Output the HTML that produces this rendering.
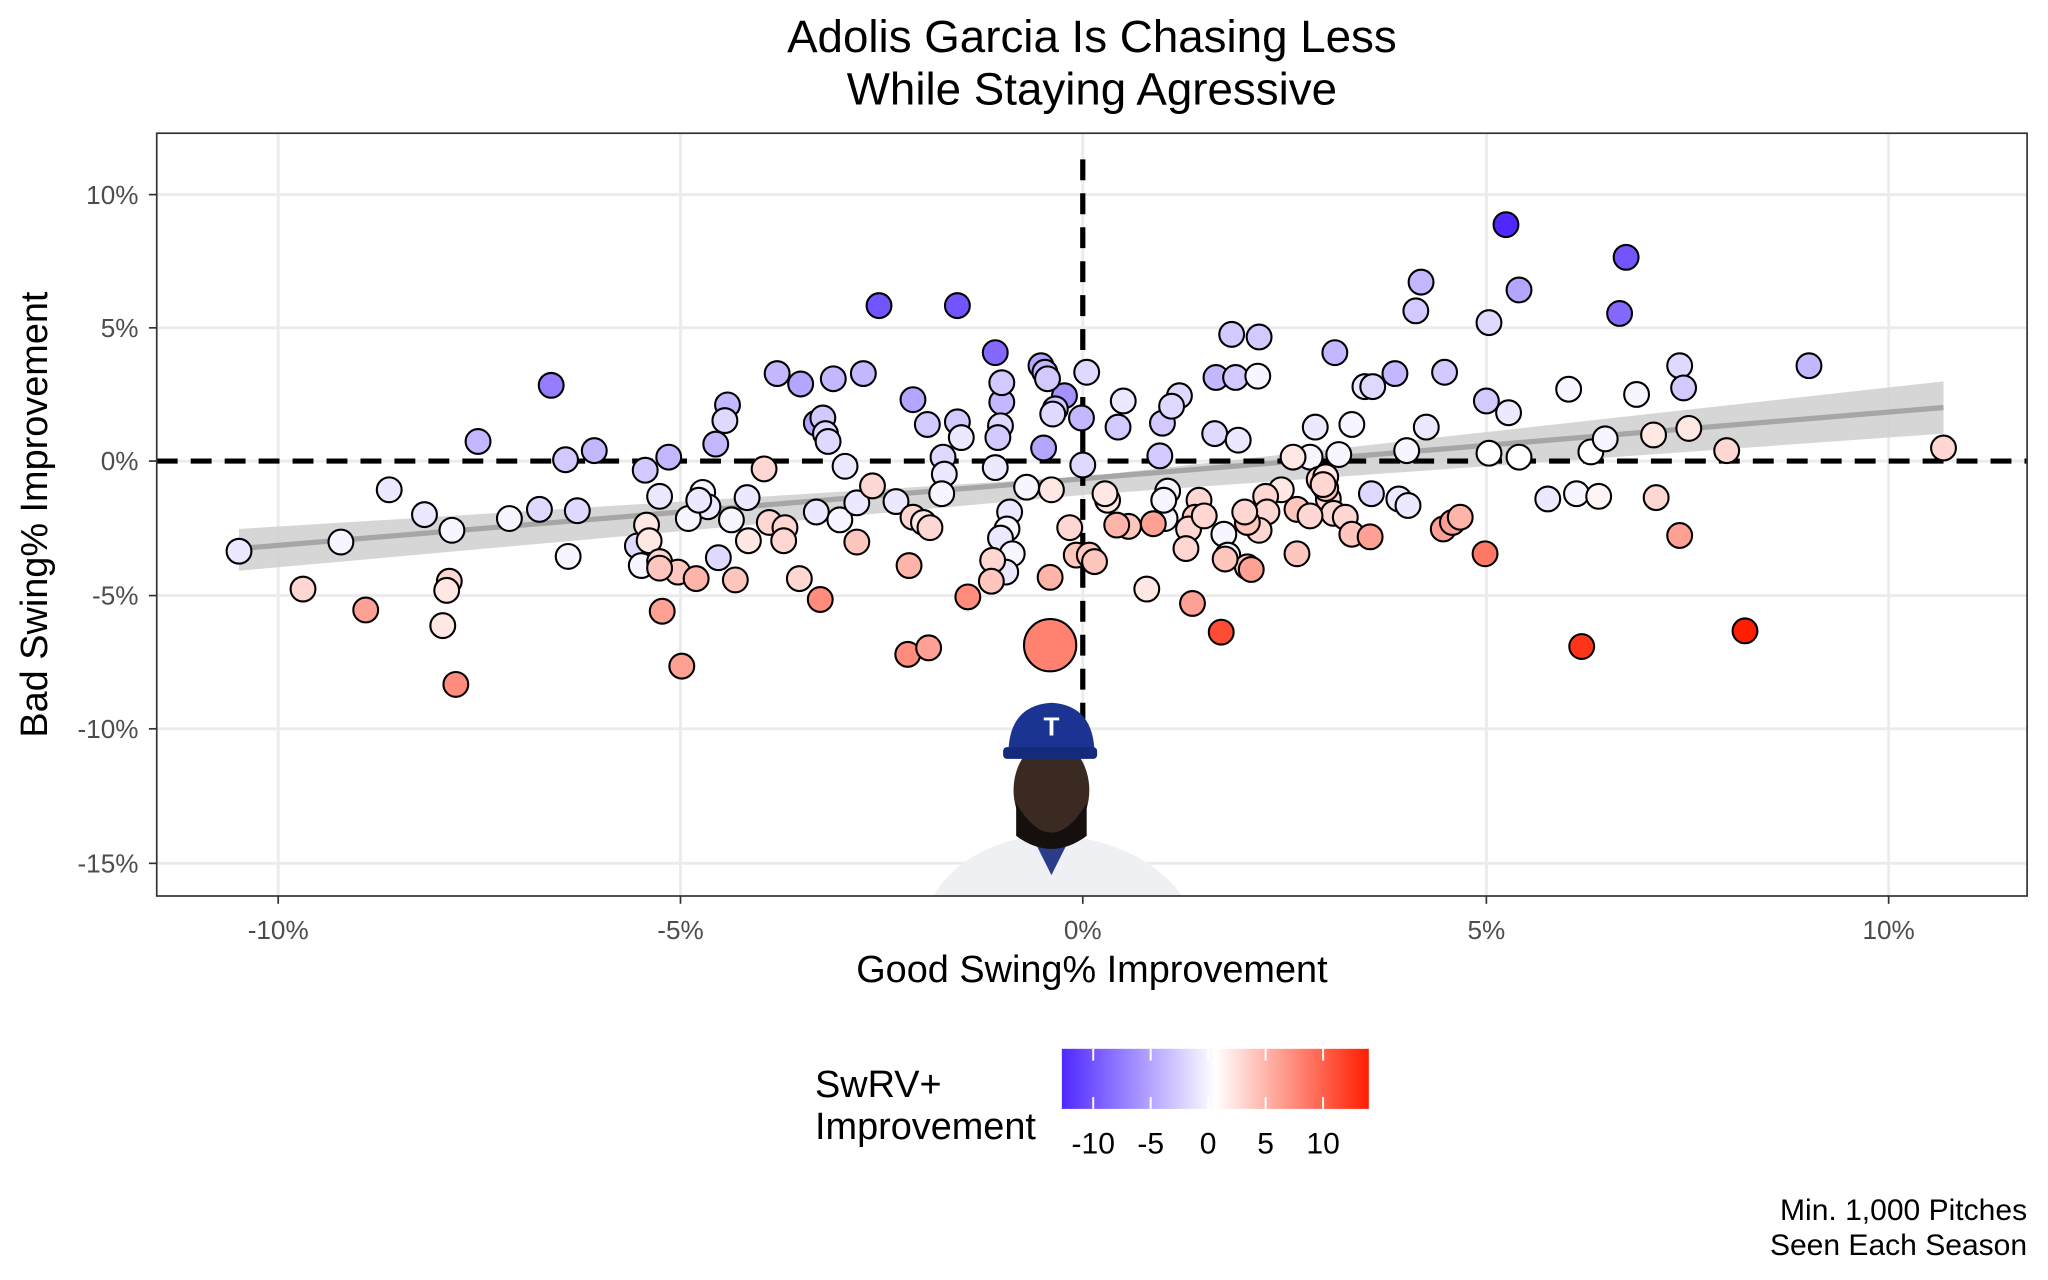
<!DOCTYPE html>
<html><head><meta charset="utf-8"><style>
html,body{margin:0;padding:0;background:#fff}
svg{display:block}
text{font-family:"Liberation Sans",sans-serif}
</style></head><body>
<svg id="s" width="2048" height="1280" viewBox="0 0 1568 980" xmlns="http://www.w3.org/2000/svg">
<defs>
<linearGradient id="lg" x1="0" x2="1" y1="0" y2="0">
<stop offset="0" stop-color="#5028ff"/><stop offset="0.5" stop-color="#ffffff"/><stop offset="1" stop-color="#ff1e00"/>
</linearGradient>
</defs>
<rect width="1568" height="980" fill="#fff"/>
<text x="836" y="40" font-size="35" text-anchor="middle">Adolis Garcia Is Chasing Less</text>
<text x="836" y="80" font-size="35" text-anchor="middle">While Staying Agressive</text>
<g stroke="#ebebeb" stroke-width="2.2">
<line x1="120" x2="1552" y1="149" y2="149"/><line x1="120" x2="1552" y1="251" y2="251"/>
<line x1="120" x2="1552" y1="353" y2="353"/><line x1="120" x2="1552" y1="456" y2="456"/>
<line x1="120" x2="1552" y1="558" y2="558"/><line x1="120" x2="1552" y1="661" y2="661"/>
<line y1="102" y2="686" x1="213" x2="213"/><line y1="102" y2="686" x1="521" x2="521"/>
<line y1="102" y2="686" x1="829" x2="829"/><line y1="102" y2="686" x1="1138" x2="1138"/>
<line y1="102" y2="686" x1="1446" x2="1446"/>
</g>
<path d="M183,405 L829,365 L1488,292 L1488,332 L829,379 L183,437 Z" fill="#cfcfcf" opacity="0.85"/>
<line x1="183" y1="420" x2="1488" y2="312" stroke="#a6a6a6" stroke-width="4"/>
<line x1="120" x2="1552" y1="353" y2="353" stroke="#000" stroke-width="4" stroke-dasharray="16,10"/>
<line x1="829" x2="829" y1="122" y2="560" stroke="#000" stroke-width="4" stroke-dasharray="16,10"/>
<g id="pts" stroke="#000" stroke-width="1.6"></g>
<!-- player -->
<path d="M715,686 Q735,650 790,640 L820,640 Q880,650 905,686 Z" fill="#eef0f4"/>
<path d="M790,640 L805,670 L820,640 Z" fill="#2a3d8a"/>
<ellipse cx="805" cy="605" rx="29" ry="38" fill="#3b2a22"/>
<path d="M778,615 Q805,660 832,615 L832,640 Q805,660 778,640Z" fill="#15100d"/>
<path d="M772,578 Q772,540 805,538 Q838,540 838,578 Z" fill="#1c3491"/>
<rect x="768" y="572" width="72" height="9" rx="3" fill="#142a7a"/>
<text x="805" y="563" font-size="20" font-weight="bold" fill="#fff" text-anchor="middle" font-family="Liberation Serif">T</text>
<rect x="120" y="102" width="1432" height="584" fill="none" stroke="#333" stroke-width="1.3"/>
<g font-size="20" fill="#4d4d4d" text-anchor="end">
<text x="106" y="156">10%</text><text x="106" y="258">5%</text><text x="106" y="360">0%</text>
<text x="106" y="463">-5%</text><text x="106" y="565">-10%</text><text x="106" y="668">-15%</text>
</g>
<g stroke="#333" stroke-width="1.3">
<line x1="114" x2="120" y1="149" y2="149"/><line x1="114" x2="120" y1="251" y2="251"/><line x1="114" x2="120" y1="353" y2="353"/>
<line x1="114" x2="120" y1="456" y2="456"/><line x1="114" x2="120" y1="558" y2="558"/><line x1="114" x2="120" y1="661" y2="661"/>
<line y1="686" y2="692" x1="213" x2="213"/><line y1="686" y2="692" x1="521" x2="521"/><line y1="686" y2="692" x1="829" x2="829"/>
<line y1="686" y2="692" x1="1138" x2="1138"/><line y1="686" y2="692" x1="1446" x2="1446"/>
</g>
<g font-size="20" fill="#4d4d4d" text-anchor="middle">
<text x="213" y="719">-10%</text><text x="521" y="719">-5%</text><text x="829" y="719">0%</text>
<text x="1138" y="719">5%</text><text x="1446" y="719">10%</text>
</g>
<text x="836" y="752" font-size="29" text-anchor="middle">Good Swing% Improvement</text>
<text transform="translate(36,394) rotate(-90)" font-size="29" text-anchor="middle">Bad Swing% Improvement</text>
<text x="624" y="840" font-size="29">SwRV+</text>
<text x="624" y="872" font-size="29">Improvement</text>
<rect x="813" y="803" width="235" height="46" fill="url(#lg)"/>
<g stroke="#fff" stroke-width="1.5">
<line x1="837" x2="837" y1="803" y2="812"/><line x1="837" x2="837" y1="840" y2="849"/>
<line x1="881" x2="881" y1="803" y2="812"/><line x1="881" x2="881" y1="840" y2="849"/>
<line x1="925" x2="925" y1="803" y2="812"/><line x1="925" x2="925" y1="840" y2="849"/>
<line x1="969" x2="969" y1="803" y2="812"/><line x1="969" x2="969" y1="840" y2="849"/>
<line x1="1013" x2="1013" y1="803" y2="812"/><line x1="1013" x2="1013" y1="840" y2="849"/>
</g>
<g font-size="23" text-anchor="middle">
<text x="837" y="883">-10</text><text x="881" y="883">-5</text><text x="925" y="883">0</text><text x="969" y="883">5</text><text x="1013" y="883">10</text>
</g>
<text x="1552" y="934" font-size="23" text-anchor="end">Min. 1,000 Pitches</text>
<text x="1552" y="961" font-size="23" text-anchor="end">Seen Each Season</text>
</svg>
<script>
var P=[
[1153,172,-12],[1245,197,-10],[1240,240,-9],[673,234,-10],[733,234,-10],[762,270,-9],[422,295,-8],[815,303,-7],
[1088,216,-5],[1084,238,-4],[1163,222,-6],[943,256,-4],[964,258,-4],[1022,270,-5],[797,280,-6],[800,285,-5],[802,290,-4],[595,286,-5],[613,294,-6],[638,290,-5],[661,286,-5],[1068,286,-5],[1045,296,-2],[1051,296,-3],[931,289,-5],[946,289,-4],[1286,280,-3],[1289,297,-4],[1385,280,-5],[699,306,-6],[767,308,-5],[767,293,-4],[557,310,-5],[555,322,-3],[625,324,-6],[630,320,-4],[632,332,-3],[634,338,-3],[710,325,-4],[733,323,-4],[736,335,-2],[766,326,-3],[764,335,-4],[808,313,-4],[806,317,-3],[890,324,-4],[903,303,-3],[897,311,-3],[930,332,-3],[948,337,-2],[366,338,-5],[433,352,-4],[455,345,-5],[494,360,-4],[512,350,-5],[548,340,-5],[799,343,-6],[828,320,-5],[888,349,-4],[1106,285,-4],[1138,307,-4],[1155,316,-2],[1201,298,-1],[1253,302,-1],[1140,247,-3],
[832,285,-3],[860,307,-2],[856,327,-4],[963,288,-1],[722,350,-3],[723,363,-2],[647,357,-2],[762,358,-2],[829,356,-3],[1092,327,-2],[1077,345,-1],[1035,325,-1],[1007,327,-2],[1025,348,-1],[1003,350,-1],[1163,350,0],[1218,346,0],[1229,336,-1],[1050,378,-3],[1071,382,-2],[1078,387,-2],[1185,382,-2],[1207,378,-1],[1224,380,1],[298,375,-2],[325,394,-2],[346,406,-1],[390,397,-1],[413,390,-3],[442,391,-3],[488,418,-3],[505,380,-2],[538,377,-1],[542,388,-2],[527,397,-1],[535,383,-2],[560,398,-1],[572,381,-2],[550,427,-3],[435,426,-1],[183,422,-2],[261,415,-1],[491,433,-1],[625,392,-2],[643,398,-1],[656,385,-2],[686,384,-2],[721,378,-1],[786,373,-1],[773,392,-2],[771,405,-1],[766,412,-2],[775,424,-1],[770,438,-2],[894,376,-1],[892,397,-1],[891,383,-1],[937,409,-1],[940,425,-1],[1140,347,0],
[585,359,3],[668,372,3],[699,396,3],[707,400,2],[712,404,3],[589,400,3],[601,404,3],[600,414,3],[573,414,2],[612,443,3],[656,415,4],[819,404,3],[824,425,4],[848,383,2],[864,403,4],[846,378,2],[918,383,3],[915,396,4],[910,405,3],[922,395,3],[908,420,3],[1017,382,3],[1015,374,4],[1010,367,3],[1021,393,3],[1030,396,3],[990,350,2],[993,390,4],[981,375,2],[969,380,3],[970,392,3],[964,406,3],[955,400,4],[1003,395,3],[1015,365,2],[1266,333,2],[1293,328,2],[1322,345,3],[1488,343,3],[1268,381,3],[232,451,3],[344,445,3],[342,452,2],[339,479,2],[878,451,2],[953,392,3],[1035,409,4],[1013,371,3],[760,429,3],[759,445,4],[805,375,2],[955,434,4],[938,428,4],[563,444,4],[495,402,2],[497,414,2],[505,430,3],[519,438,4],[533,443,5],[505,435,4],[993,424,4],
[280,467,6],[507,468,6],[522,510,6],[628,459,7],[741,457,7],[696,433,5],[834,425,4],[838,430,4],[855,402,5],[883,401,6],[913,462,6],[1286,410,6],[1049,411,6],[1137,424,8],[1105,405,6],[1112,400,6],[1118,396,5],[804,442,5],[958,436,6],[349,524,7],[695,501,7],[711,496,6],
[935,484,10],[1211,495,11],[1336,483,12]
];
function col(v){var t=Math.pow(Math.min(Math.abs(v)/12,1),1.25),c=v<0?[80,40,255]:[255,30,0];
return 'rgb('+c.map(function(k){return Math.round(255+(k-255)*t)}).join(',')+')';}
var g=document.getElementById('pts'),h='';
P.forEach(function(p){h+='<circle cx="'+p[0]+'" cy="'+p[1]+'" r="9.5" fill="'+col(p[2])+'"/>';});
h+='<circle cx="804" cy="494" r="20" fill="'+col(7.5)+'"/>';
g.innerHTML=h;
</script>
</body></html>
